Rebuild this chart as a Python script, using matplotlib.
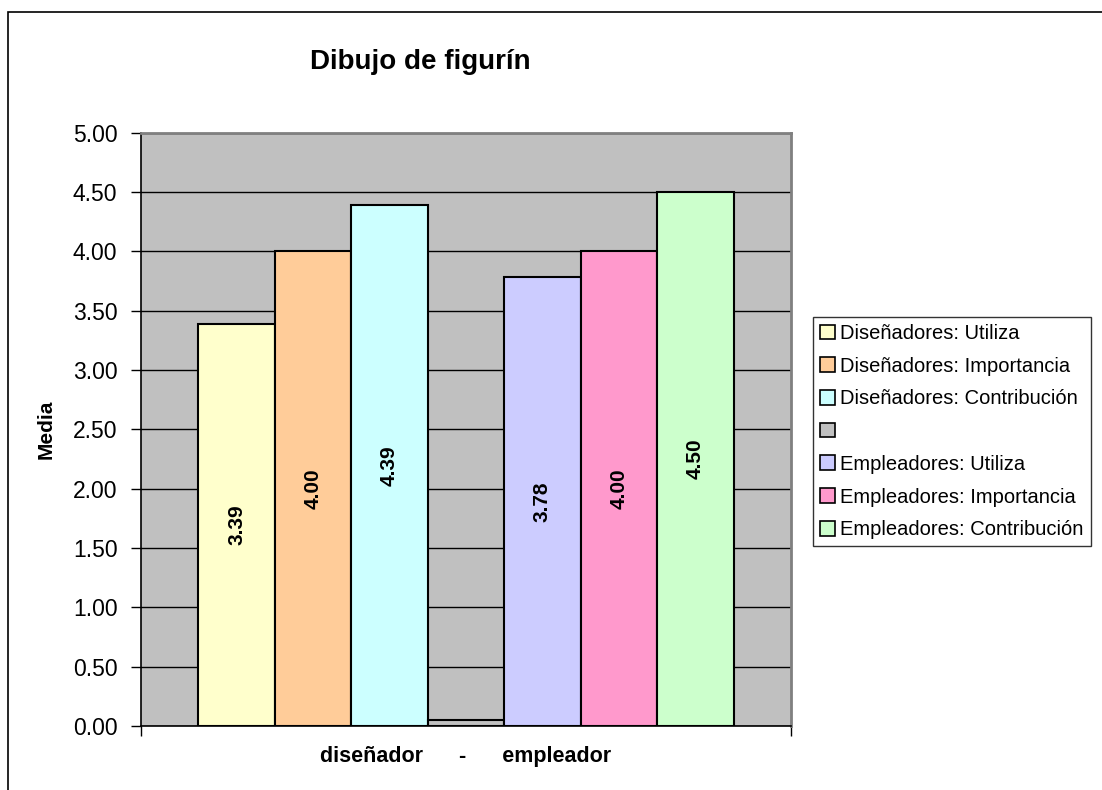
import numpy as np
import matplotlib.pyplot as plt
from matplotlib.patches import Rectangle, Patch

plt.rcParams['font.family'] = ['Liberation Sans', 'DejaVu Sans']

# series of the only category group
series = ['Diseñadores: Utiliza', 'Diseñadores: Importancia', 'Diseñadores: Contribución', '',
          'Empleadores: Utiliza', 'Empleadores: Importancia', 'Empleadores: Contribución']
values = [3.39, 4.00, 4.39, 0.05, 3.78, 4.00, 4.50]
colors = ['#FFFFCC', '#FFCC99', '#CCFFFF', '#C0C0C0', '#CCCCFF', '#FF99CC', '#CCFFCC']
shown = [True, True, True, False, True, True, True]
yticks = np.arange(0, 5.01, 0.5)

W, H = 1102, 790
fig = plt.figure(figsize=(W / 100, H / 100), dpi=100)
ax = fig.add_axes([141 / W, 1 - 726 / H, 650 / W, (726 - 132.5) / H])
ax.set_facecolor('#C0C0C0')

# Excel-like clustered bars: gap width 150 %
n = len(values)
w = 1 / (n + 1.5)
xs = -0.5 + 0.75 * w + w * (np.arange(n) + 0.5)
ax.set_axisbelow(True)
ax.grid(axis='y', color='black', lw=1)
ax.bar(xs, values, width=w, color=colors, edgecolor='black', lw=1.5, zorder=3)

for x, v, s in zip(xs, values, shown):
    if s:
        ax.text(x, v / 2, f'{v:.2f}', rotation=90, ha='center', va='center',
                fontsize=15, fontweight='bold', zorder=4)

ax.set_xlim(-0.5, 0.5)
ax.set_ylim(0, 5)
ax.set_yticks(yticks)
ax.set_yticklabels([f'{t:.2f}' for t in yticks], fontsize=16.5)
ax.set_xticks([-0.5, 0.5])
ax.set_xticklabels(['', ''])
ax.tick_params(axis='both', direction='out', length=7, width=1, color='black')
ax.tick_params(axis='y', pad=10)

for side in ['top', 'right']:
    ax.spines[side].set_color('#808080')
    ax.spines[side].set_linewidth(2)
for side in ['left', 'bottom']:
    ax.spines[side].set_color('black')
    ax.spines[side].set_linewidth(1.2)

ax.set_ylabel('Media', fontsize=15, fontweight='bold', labelpad=12)
ax.set_xlabel('diseñador      -      empleador', fontsize=15.5, fontweight='bold', labelpad=4)

fig.text(420 / W, 1 - 62 / H, 'Dibujo de figurín', ha='center', va='center',
         fontsize=20, fontweight='bold')

handles = [Patch(facecolor=c, edgecolor='black', lw=1.2) for c in colors]
leg = fig.legend(handles, series, loc='upper left', bbox_to_anchor=(813 / W, 1 - 317 / H),
                 fontsize=14.5, frameon=True, fancybox=False, edgecolor='black',
                 handlelength=0.75, handleheight=0.75, handletextpad=0.25,
                 labelspacing=0.68, borderpad=0.35, borderaxespad=0)
leg.get_frame().set_linewidth(1)

# chart area border
fig.patches.append(Rectangle((8 / W, -0.2), 2, 1 - 12 / H + 0.2, transform=fig.transFigure,
                             fill=False, edgecolor='black', lw=1.2))

fig.savefig('out.png', dpi=100)
